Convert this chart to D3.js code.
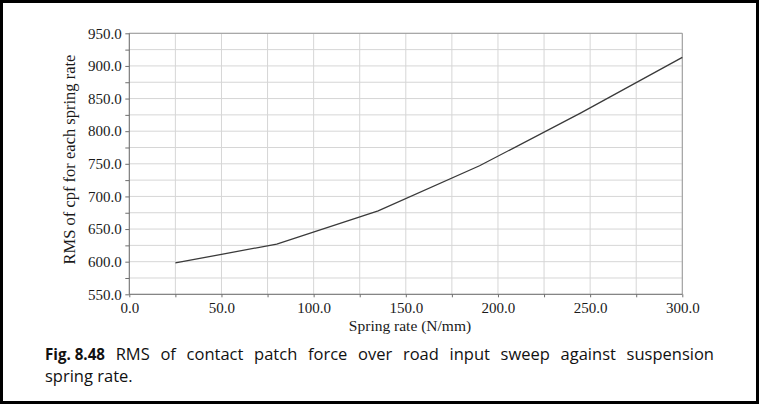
<!DOCTYPE html>
<html>
<head>
<meta charset="utf-8">
<script src="https://cdn.jsdelivr.net/npm/d3@7"></script>
<style>
  html, body { margin: 0; padding: 0; background: #000; }
  svg { display: block; }
</style>
</head>
<body>
<svg id="chart" width="759" height="404"></svg>
<script>
// values
const springRate = [25, 80, 135, 190, 245, 300];
const rmsCpf = [598, 627, 678, 747, 828, 913];
const xTicks = [0, 50, 100, 150, 200, 250, 300];
const yTicks = [550, 600, 650, 700, 750, 800, 850, 900, 950];
const captionLine1 = ['RMS', 'of', 'contact', 'patch', 'force', 'over', 'road', 'input', 'sweep', 'against', 'suspension'];
const captionLine2 = 'spring rate.';

const svg = d3.select('#chart');

// white page inside the black frame
svg.append('rect')
  .attr('x', 3).attr('y', 3)
  .attr('width', 753).attr('height', 398)
  .attr('fill', '#fff');

const plotL = 129.3, plotR = 682.3, plotT = 33.3, plotB = 294.3;
const serif = '"Liberation Serif", "Times New Roman", serif';

const x = d3.scaleLinear().domain([0, 300]).range([plotL, plotR]);
const y = d3.scaleLinear().domain([550, 950]).range([plotB, plotT]);

const gridX = d3.range(0, 301, 25);
const gridY = d3.range(550, 951, 25);

// grid
svg.append('g')
  .selectAll('line')
  .data(gridX)
  .enter()
  .append('line')
  .attr('x1', d => x(d)).attr('x2', d => x(d))
  .attr('y1', plotT).attr('y2', plotB)
  .attr('stroke', '#d6d6d6')
  .attr('stroke-width', 1);

svg.append('g')
  .selectAll('line')
  .data(gridY)
  .enter()
  .append('line')
  .attr('x1', plotL).attr('x2', plotR)
  .attr('y1', d => y(d)).attr('y2', d => y(d))
  .attr('stroke', '#d6d6d6')
  .attr('stroke-width', 1);

// box top and right
svg.append('path')
  .attr('d', `M${plotL},${plotT}H${plotR}V${plotB}`)
  .attr('fill', 'none')
  .attr('stroke', '#9a9a9a')
  .attr('stroke-width', 1);

// axes
const xAxis = d3.axisBottom(x)
  .tickValues(gridX)
  .tickSize(3)
  .tickFormat(d => xTicks.includes(d) ? d3.format('.1f')(d) : '');

const yAxis = d3.axisLeft(y)
  .tickValues(gridY)
  .tickSize(4)
  .tickFormat(d => yTicks.includes(d) ? d3.format('.1f')(d) : '');

const gx = svg.append('g')
  .attr('transform', `translate(0,${plotB})`)
  .call(xAxis);
gx.select('.domain').attr('stroke', '#6e6e6e').attr('d', `M${plotL},0H${plotR}`);
gx.selectAll('.tick line').attr('stroke', '#6e6e6e');
gx.selectAll('.tick text')
  .attr('y', 8)
  .attr('fill', '#1a1a1a')
  .style('font-family', serif)
  .style('font-size', '15px');

const gy = svg.append('g')
  .attr('transform', `translate(${plotL},0)`)
  .call(yAxis);
gy.select('.domain').attr('stroke', '#6e6e6e').attr('d', `M0,${plotB}V${plotT}`);
gy.selectAll('.tick line').attr('stroke', '#6e6e6e');
gy.selectAll('.tick text')
  .attr('x', -7.5)
  .attr('fill', '#1a1a1a')
  .style('font-family', serif)
  .style('font-size', '15px');

// data line
const line = d3.line()
  .x((d, i) => x(springRate[i]))
  .y(d => y(d));

svg.append('path')
  .datum(rmsCpf)
  .attr('d', line)
  .attr('fill', 'none')
  .attr('stroke', '#3a3a3a')
  .attr('stroke-width', 1.3);

// axis titles
svg.append('text')
  .attr('x', 410).attr('y', 331)
  .attr('text-anchor', 'middle')
  .attr('fill', '#1a1a1a')
  .style('font-family', serif)
  .style('font-size', '15.5px')
  .text('Spring rate (N/mm)');

svg.append('text')
  .attr('transform', 'translate(75,159.5) rotate(-90)')
  .attr('text-anchor', 'middle')
  .attr('fill', '#1a1a1a')
  .style('font-family', serif)
  .style('font-size', '16.5px')
  .text('RMS of cpf for each spring rate');

// caption, first line justified
const capFont = '"Open Sans", "Noto Sans", sans-serif';
const capL = 45, capR = 714;

const cap = svg.append('g')
  .attr('fill', '#111')
  .style('font-family', capFont)
  .style('font-size', '16.5px');

const words = [{ t: 'Fig. 8.48', bold: true }].concat(captionLine1.map(t => ({ t: t, bold: false })));
const nodes = words.map(w => cap.append('text')
  .attr('y', 360)
  .style('font-weight', w.bold ? 700 : 400)
  .text(w.t));
// the bold label in the print is a narrow face
nodes[0].attr('textLength', 60).attr('lengthAdjust', 'spacingAndGlyphs');
const widths = nodes.map((n, i) => i === 0 ? 60 : n.node().getComputedTextLength());
const gap = (capR - capL - d3.sum(widths)) / (nodes.length - 1);
let cx = capL;
nodes.forEach((n, i) => {
  n.attr('x', cx);
  cx += widths[i] + gap;
});

cap.append('text')
  .attr('x', capL).attr('y', 382)
  .text(captionLine2);
</script>
</body>
</html>
